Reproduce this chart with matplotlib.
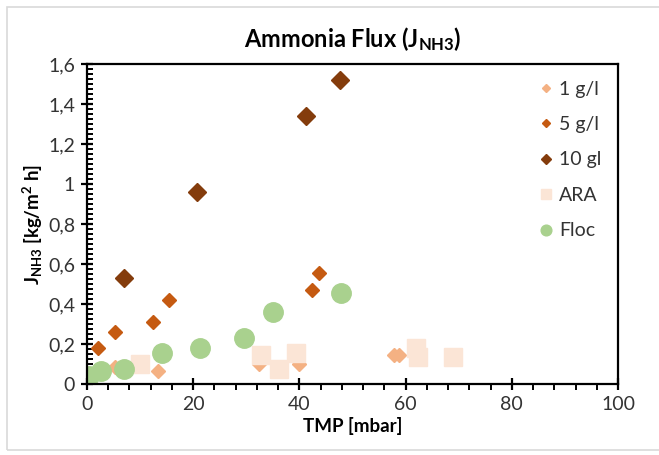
import matplotlib
matplotlib.use("Agg")
import matplotlib.pyplot as plt
from matplotlib.patches import Rectangle
from matplotlib.ticker import MultipleLocator, FuncFormatter

plt.rcParams['font.family'] = ['Lato', 'DejaVu Sans']
plt.rcParams['mathtext.fontset'] = 'custom'
plt.rcParams['mathtext.rm'] = 'Lato'
plt.rcParams['mathtext.bf'] = 'Lato:bold'
plt.rcParams['mathtext.it'] = 'Lato:italic'

# data: TMP [mbar] and flux [kg/m2 h]
tmp_1gl = [0.0, 5.2, 13.3, 32.3, 40.0, 57.8, 58.7]
flux_1gl = [0.04, 0.087, 0.067, 0.10, 0.10, 0.145, 0.145]

tmp_5gl = [2.1, 5.2, 12.4, 15.5, 42.4, 43.6]
flux_5gl = [0.18, 0.26, 0.31, 0.42, 0.47, 0.556]

tmp_10gl = [7.0, 20.7, 41.2, 47.7]
flux_10gl = [0.53, 0.96, 1.34, 1.52]

tmp_ara = [0.0, 10.0, 32.8, 36.2, 39.4, 61.9, 62.3, 69.0]
flux_ara = [0.04, 0.10, 0.145, 0.073, 0.153, 0.178, 0.137, 0.133]

tmp_floc = [0.4, 2.6, 6.9, 14.1, 21.2, 29.5, 35.0, 47.9]
flux_floc = [0.04, 0.065, 0.075, 0.153, 0.178, 0.228, 0.358, 0.453]

fig = plt.figure(figsize=(6.59, 4.55), dpi=100)
fig.patches.append(Rectangle((7 / 659, 5 / 455), 660 / 659, 443 / 455,
                             transform=fig.transFigure, fill=False,
                             edgecolor='#d9d9d9', linewidth=1.2))
ax = fig.add_axes([87 / 659, 71 / 455, 531 / 659, 320 / 455])

ax.plot(tmp_1gl, flux_1gl, 'D', ms=7, color='#F4B183', label='1 g/l')
ax.plot(tmp_5gl, flux_5gl, 'D', ms=7, color='#C55A11', label='5 g/l')
ax.plot(tmp_10gl, flux_10gl, 'D', ms=9.5, color='#843C0C', label='10 gl')
ax.plot(tmp_ara, flux_ara, 's', ms=13, color='#FBE5D6', label='ARA')
ax.plot(tmp_floc, flux_floc, 'o', ms=14, color='#A9D18E', label='Floc')

ax.set_xlim(0, 100)
ax.set_ylim(0, 1.6)
ax.xaxis.set_major_locator(MultipleLocator(20))
ax.xaxis.set_minor_locator(MultipleLocator(4))
ax.yaxis.set_major_locator(MultipleLocator(0.2))
ax.yaxis.set_minor_locator(MultipleLocator(0.025))
ax.yaxis.set_major_formatter(FuncFormatter(lambda v, p: ('%g' % round(v, 2)).replace('.', ',')))

for s in ax.spines.values():
    s.set_linewidth(1.6)
    s.set_color('black')
ax.tick_params(which='major', direction='inout', length=9, width=1.6,
               labelsize=14, labelcolor='#333333', pad=4)
ax.tick_params(axis='x', which='minor', direction='out', length=4, width=1.4)
ax.tick_params(axis='y', which='minor', direction='in', length=4, width=1.4)

ax.set_xlabel('TMP [mbar]', fontsize=13.5, fontweight='bold', labelpad=3)
ax.set_ylabel(r'J$_{\mathbf{NH3}}$ [kg/m$^{\mathbf{2}}$ h]', fontsize=13.5,
              fontweight='bold', labelpad=2)
ax.set_title(r'Ammonia Flux ($\mathbf{J_{NH3}}$)', fontsize=17,
             fontweight='bold', pad=12)

leg = ax.legend(loc='upper right', frameon=False, fontsize=14,
                markerscale=0.55, labelspacing=0.95, handletextpad=0.15,
                handlelength=1.0, borderaxespad=0.45)
for t in leg.get_texts():
    t.set_color('#333333')

fig.savefig('out.png', dpi=100)
